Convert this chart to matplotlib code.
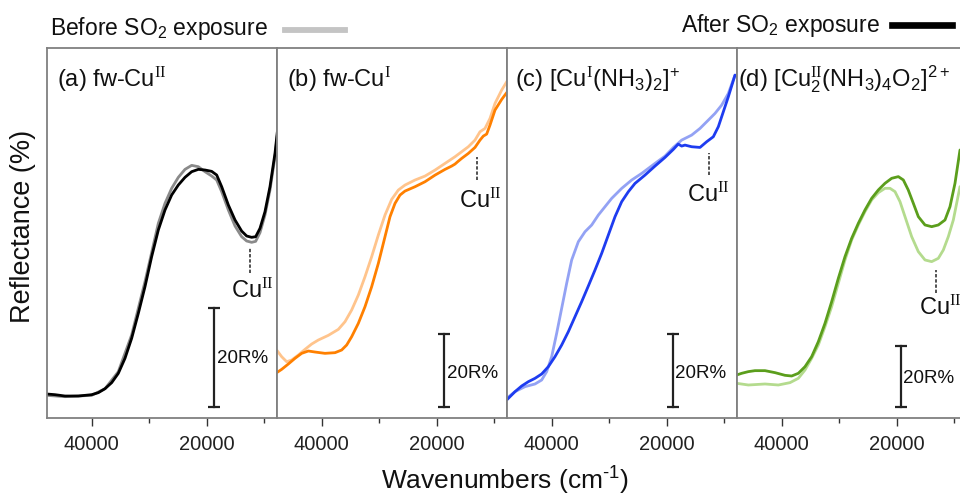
import matplotlib
matplotlib.use("Agg")
import matplotlib.pyplot as plt

plt.rcParams['font.family'] = ['Liberation Sans', 'DejaVu Sans']
plt.rcParams['mathtext.fontset'] = 'custom'
plt.rcParams['mathtext.rm'] = 'Liberation Sans'
plt.rcParams['mathtext.it'] = 'Liberation Sans:italic'
plt.rcParams['mathtext.bf'] = 'Liberation Sans:bold'
plt.rcParams['mathtext.sf'] = 'Liberation Sans'
plt.rcParams['mathtext.tt'] = 'Liberation Serif'

# ---------------- data (wavenumber cm-1, reflectance %) ----------------
# (a) fw-CuII
a_before_wn = [47860, 44670, 40030, 37710, 35400, 33080, 30760, 28440, 27280, 26120, 24960, 23800,
               22640, 21480, 20320, 19160, 18290, 17420, 16260, 15100, 13950, 13080, 12210, 11510,
               10760, 9890, 9020, 8150, 7740]
a_before_R = [4.58, 4.31, 4.58, 5.92, 9.36, 16.77, 27.54, 39.32, 43.36, 46.40, 48.62, 50.23,
              51.04, 50.77, 49.76, 48.89, 48.08, 45.72, 42.02, 38.79, 36.63, 35.76, 35.49, 35.69,
              37.44, 41.01, 46.06, 52.79, 57.17]
a_after_wn = [47860, 46410, 44670, 42350, 40030, 38870, 37710, 36550, 35400, 34240, 33080, 31920,
              30760, 29600, 28440, 27280, 26120, 24960, 23800, 22640, 21480, 20320, 19160, 18290,
              17420, 16260, 15100, 13950, 13080, 12210, 11510, 10760, 9890, 9020, 8150, 7740]
a_after_R = [4.85, 4.71, 4.44, 4.44, 4.71, 5.12, 5.92, 7.14, 9.02, 12.05, 16.09, 21.14,
             26.53, 32.59, 37.98, 42.02, 45.05, 47.07, 48.62, 49.76, 50.23, 50.10, 49.83, 49.09,
             46.73, 43.03, 40.00, 37.77, 36.77, 36.50, 36.63, 38.31, 41.68, 46.73, 53.47, 57.84]

# (b) fw-CuI
b_before_wn = [47858, 46989, 46119, 45250, 44090, 42931, 41771, 40612, 38873, 37133, 35974, 34815,
               33655, 32496, 31337, 30177, 29018, 27858, 26699, 25540, 23801, 22061, 20322, 18583,
               16844, 15685, 14525, 13366, 12496, 11627, 10757, 9888, 8728, 7742]
b_before_R = [18.63, 16.80, 15.43, 15.89, 17.26, 18.81, 20.27, 21.37, 22.65, 24.29, 26.39, 29.59,
              33.70, 38.72, 44.20, 50.14, 55.62, 59.91, 62.47, 63.84, 65.21, 66.30, 67.94, 69.77,
              71.60, 72.97, 74.34, 76.16, 78.45, 79.36, 82.10, 86.21, 89.86, 92.42]
b_after_wn = [47858, 46989, 45829, 44670, 43510, 42351, 41192, 39453, 37713, 36554, 35684, 34815,
              33655, 32496, 31337, 30177, 29018, 28148, 27279, 26409, 25540, 23801, 22061, 20322,
              18583, 17424, 16844, 16380, 15685, 14525, 13366, 12496, 11917, 11337, 10757, 9888,
              8728, 7742]
b_after_R = [12.42, 13.33, 14.80, 16.35, 17.72, 18.36, 18.08, 17.72, 17.90, 18.63, 20.00, 22.28,
             25.94, 30.50, 35.98, 42.37, 49.68, 55.16, 58.81, 61.10, 62.19, 63.38, 64.75, 66.56,
             68.13, 69.04, 69.59, 70.23, 71.14, 72.51, 74.15, 76.16, 77.26, 77.81, 80.27, 84.38,
             87.30, 89.40]

# (c) [CuI(NH3)2]+
c_before_wn = [47858, 46409, 44670, 42931, 41771, 40902, 40032, 39163, 38293, 37423, 36554, 35395,
               34235, 33076, 31916, 30757, 29598, 27858, 26119, 24380, 22061, 20322, 18873, 17424,
               15685, 14235, 12786, 11627, 10467, 9308, 8148]
c_before_R = [5.39, 7.22, 8.59, 9.32, 10.41, 12.70, 16.81, 23.20, 30.05, 36.90, 43.29, 48.31,
              51.05, 52.88, 55.62, 57.90, 60.18, 62.92, 65.21, 67.03, 69.77, 71.78, 74.15, 76.16,
              77.53, 79.36, 81.64, 83.47, 85.75, 88.95, 93.97]
c_after_wn = [47858, 46409, 45250, 44090, 42931, 41771, 40612, 39453, 38293, 37133, 35974, 34815,
              33655, 32496, 31337, 30177, 29018, 27858, 26699, 25540, 23801, 22061, 20322, 18873,
              18018, 17424, 16844, 15685, 14235, 13076, 11917, 11047, 10178, 9308, 8148]
c_after_R = [4.93, 7.22, 8.77, 9.95, 10.87, 12.06, 14.07, 16.81, 20.00, 23.65, 27.76, 31.87,
             36.17, 40.55, 45.11, 50.14, 55.16, 59.27, 62.01, 64.29, 66.57, 69.04, 71.41, 73.61,
             75.07, 74.52, 74.79, 74.34, 74.15, 75.71, 77.08, 79.82, 83.93, 88.04, 93.97]

# (d) [Cu2II(NH3)4O2]2+
d_before_wn = [47858, 45829, 42931, 40612, 38583, 37133, 35974, 34815, 33655, 32496, 31337, 30177,
               29018, 27858, 26699, 25540, 24380, 23221, 22061, 21192, 20322, 19453, 18583, 17424,
               16264, 15105, 13946, 12786, 11917, 11047, 10178, 9018]
d_before_R = [11.37, 10.82, 11.15, 10.82, 11.59, 13.01, 15.74, 19.56, 23.94, 29.95, 36.51, 44.16,
              51.81, 58.36, 63.28, 67.65, 71.48, 73.88, 75.30, 75.30, 74.21, 70.93, 66.01, 59.46,
              54.54, 51.81, 51.26, 52.35, 55.08, 59.46, 64.92, 75.85]
d_after_wn = [47858, 46989, 45829, 44670, 42931, 41192, 39453, 38293, 37133, 35974, 34815, 33655,
              32496, 31337, 30177, 29018, 27858, 26699, 25540, 24380, 23221, 22061, 20902, 19743,
              18873, 18018, 17134, 16264, 15105, 13946, 12786, 11627, 10757, 9888, 9018]
d_after_R = [14.10, 14.65, 15.20, 15.52, 15.52, 14.87, 13.99, 13.77, 14.65, 16.83, 20.11, 25.03,
             31.04, 38.14, 45.79, 52.90, 58.91, 63.83, 68.20, 72.02, 74.76, 76.94, 78.58, 79.13,
             78.04, 74.76, 70.39, 66.01, 63.28, 62.73, 63.28, 64.92, 69.29, 76.94, 87.87]

titles = [r"(a) fw-Cu$^{\mathtt{II}}$",
          r"(b) fw-Cu$^{\mathtt{I}}$",
          r"(c) [Cu$^{\mathtt{I}}$(NH$_3$)$_2$]$^{+}$",
          r"(d) [Cu$_2^{\mathtt{II}}$(NH$_3$)$_4$O$_2$]$^{2+}$"]
before_colors = ['#8a8a8a', '#ffc48c', '#93a2f4', '#b4db8e']
after_colors = ['#000000', '#ff8000', '#1e3cf0', '#5b9e1c']
ymax = [74.75, 101.4, 101.4, 121.3]

# annotation positions (data units)
cu_line_x = [12500, 13020, 12670, 13190]
cu_line_y = [(29.3, 34.3), (65.2, 71.5), (66.6, 72.6), (41.0, 48.5)]
cu_label_xy = [(12150, 24.4), (12500, 57.8), (12840, 59.2), (12500, 33.8)]
bar_x = [18760, 18760, 18930, 19280]
bar_y0 = [2.2, 3.0, 3.0, 3.6]
bar_label_xy = [(18240, 12.1), (18240, 12.3), (18590, 12.3), (18940, 13.1)]
title_x = [0.043, 0.043, 0.035, 0.004]

series = [(a_before_wn, a_before_R, a_after_wn, a_after_R),
          (b_before_wn, b_before_R, b_after_wn, b_after_R),
          (c_before_wn, c_before_R, c_after_wn, c_after_R),
          (d_before_wn, d_before_R, d_after_wn, d_after_R)]

W, H = 960, 496
fig = plt.figure(figsize=(9.6, 4.96), dpi=100)
lefts = [47, 277, 507, 737]
pw = 230
top_px, bot_px = 48, 418

for i in range(4):
    ax = fig.add_axes([lefts[i] / W, 1 - bot_px / H, pw / W, (bot_px - top_px) / H])
    bw, bR, aw, aR = series[i]
    ax.plot(bw, bR, color=before_colors[i], lw=2.0, solid_capstyle='round')
    ax.plot(aw, aR, color=after_colors[i], lw=2.0, solid_capstyle='round')
    ax.set_xlim(47800, 7800)
    ax.set_ylim(0, ymax[i])
    ax.set_yticks([])
    ax.set_xticks([40000, 20000])
    ax.set_xticks([30000, 10000], minor=True)
    ax.set_xticklabels(['40000', '20000'])
    ax.tick_params(axis='x', which='major', length=6, width=1.0, color='#333333',
                   pad=6, labelsize=14.5, labelcolor='#222222')
    ax.tick_params(axis='x', which='minor', length=3.8, width=1.0, color='#333333')
    for s in ax.spines.values():
        s.set_color('#808080')
        s.set_linewidth(1.3)
    ax.text(title_x[i], 0.897, titles[i], transform=ax.transAxes, fontsize=17,
            ha='left', va='baseline', color='#111111')
    # CuII marker
    ax.plot([cu_line_x[i], cu_line_x[i]], cu_line_y[i], color='#222222', lw=1.1,
            ls=(0, (2.2, 1.2)))
    ax.text(cu_label_xy[i][0], cu_label_xy[i][1], r"Cu$^{\mathtt{II}}$", fontsize=17,
            ha='center', va='baseline', color='#111111')
    # scale bar 20 R%
    ax.plot([bar_x[i], bar_x[i]], [bar_y0[i], bar_y0[i] + 20], color='#222222', lw=1.6)
    ax.plot([bar_x[i], bar_x[i]], [bar_y0[i], bar_y0[i] + 20], ls='', marker='_',
            ms=8, mew=1.6, color='#222222')
    ax.text(bar_label_xy[i][0], bar_label_xy[i][1], "20R%", fontsize=13.5,
            ha='left', va='center', color='#111111')

# legend-like labels
fig.text(50 / W, 1 - 35 / H, r"Before SO$_2$ exposure", fontsize=16.5, ha='left',
         va='baseline', color='#111111')
fig.add_artist(plt.Line2D([285 / W, 345 / W], [1 - 29.5 / H, 1 - 29.5 / H],
                          color='#c4c4c4', lw=4.2, transform=fig.transFigure))
fig.text(880 / W, 1 - 32 / H, r"After SO$_2$ exposure", fontsize=16.5, ha='right',
         va='baseline', color='#111111')
fig.add_artist(plt.Line2D([892 / W, 952 / W], [1 - 25 / H, 1 - 25 / H],
                          color='#000000', lw=4.8, transform=fig.transFigure))

fig.text(23 / W, 1 - 226 / H, "Reflectance (%)", fontsize=19.5, rotation=90,
         ha='center', va='center', color='#111111')
fig.text(505 / W, 1 - 481 / H, r"Wavenumbers (cm$^{\text{-1}}$)", fontsize=19,
         ha='center', va='center', color='#111111')

fig.savefig("out.png", dpi=100)
